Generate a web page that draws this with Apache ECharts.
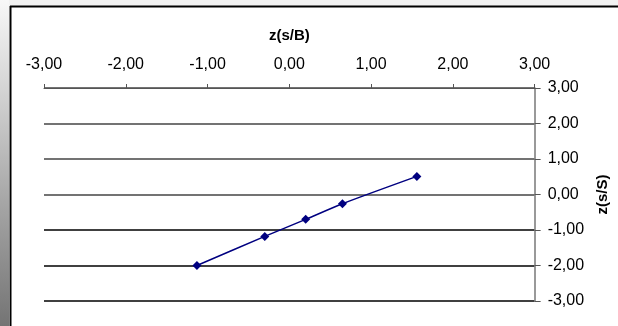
<!DOCTYPE html>
<html>
<head>
<meta charset="utf-8">
<script src="https://cdn.jsdelivr.net/npm/echarts@6/dist/echarts.min.js"></script>
<style>
  html, body { margin: 0; padding: 0; background: #fff; }
  #chart { width: 618px; height: 326px; }
</style>
</head>
<body>
<div id="chart"></div>
<script>
// z-scores of the two rates
const zSB = [-1.13, -0.30, 0.20, 0.65, 1.56];
const zSS = [-2.00, -1.18, -0.70, -0.26, 0.51];
const axisTicks = [-3, -2, -1, 0, 1, 2, 3];
const xName = 'z(s/B)';
const yName = 'z(s/S)';

const fmt = v => v.toFixed(2).replace('.', ',');
const points = zSB.map((x, i) => [x, zSS[i]]);

const chart = echarts.init(document.getElementById('chart'), null, { renderer: 'canvas' });
chart.setOption({
  animation: false,
  backgroundColor: '#fff',
  textStyle: { fontFamily: 'Arial, "Liberation Sans", sans-serif' },
  graphic: [
    // shaded frame strips on the left and top edges
    { type: 'rect', z: -10, shape: { x: 0, y: 0, width: 618, height: 6 },
      style: { fill: '#f2f2f2' } },
    { type: 'rect', z: -10, shape: { x: 0, y: 0, width: 9, height: 326 },
      style: { fill: new echarts.graphic.LinearGradient(0, 0, 0, 1, [
        { offset: 0, color: '#f8f8f8' }, { offset: 1, color: '#747474' }]) } },
    // chart-area frame: only the left and top edges fall inside the page
    { type: 'line', z: -9, shape: { x1: 10.5, y1: 6, x2: 10.5, y2: 326 },
      style: { stroke: '#000', lineWidth: 2 } },
    { type: 'line', z: -9, shape: { x1: 10, y1: 6.5, x2: 618, y2: 6.5 },
      style: { stroke: '#000', lineWidth: 2 } }
  ],
  grid: { left: 44, right: 83, top: 88, bottom: 25 },
  xAxis: {
    type: 'value', position: 'top',
    min: axisTicks[0], max: axisTicks[axisTicks.length - 1], interval: 1,
    name: xName, nameLocation: 'middle', nameGap: 45,
    nameTextStyle: { fontWeight: 'bold', fontSize: 15, color: '#000' },
    axisLine: { show: true, onZero: false, lineStyle: { color: '#555', width: 1 } },
    axisTick: { show: true, inside: false, length: 4, lineStyle: { color: '#555' } },
    axisLabel: { formatter: fmt, fontSize: 16, color: '#000', margin: 15 },
    splitLine: { show: false }
  },
  yAxis: {
    type: 'value', position: 'right',
    min: axisTicks[0], max: axisTicks[axisTicks.length - 1], interval: 1,
    name: yName, nameLocation: 'middle', nameGap: 58, nameRotate: 90,
    nameTextStyle: { fontWeight: 'bold', fontSize: 15, color: '#000' },
    axisLine: { show: true, onZero: false, lineStyle: { color: '#777', width: 1.5 } },
    axisTick: { show: true, inside: false, length: 6, lineStyle: { color: '#555' } },
    axisLabel: { formatter: fmt, fontSize: 16, color: '#000', margin: 13 },
    splitLine: { show: true, lineStyle: {
      color: ['#000', '#000', '#000', '#444', '#444', '#444', '#444'], width: 1.5 } }
  },
  series: [{
    type: 'line',
    data: points,
    smooth: 0.25,
    symbol: 'diamond',
    symbolSize: 9,
    lineStyle: { color: '#000080', width: 1.5 },
    itemStyle: { color: '#000080' }
  }]
});
</script>
</body>
</html>
